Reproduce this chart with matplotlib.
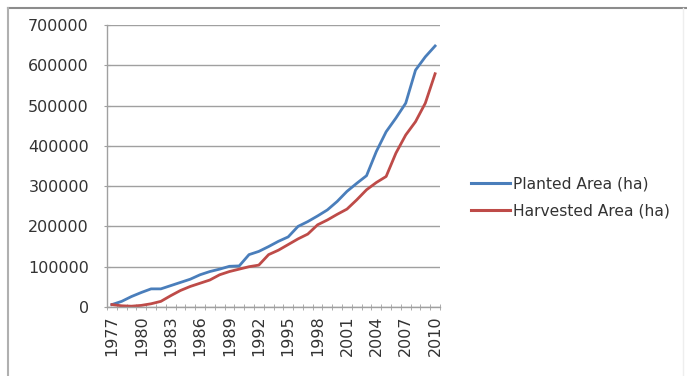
import matplotlib
matplotlib.use("Agg")
import matplotlib.pyplot as plt
from matplotlib.lines import Line2D
import numpy as np

years = list(range(1977, 2011))
planted = [6000, 14000, 26000, 36000, 45000, 45000, 53000, 61000, 69000, 80000,
           88000, 94000, 101000, 102000, 130000, 138000, 150000, 163000, 174000, 200000,
           212000, 226000, 241000, 262000, 287000, 307000, 326000, 386000, 435000, 469000,
           506000, 588000, 621000, 648000]
harvested = [6000, 3000, 2000, 4000, 8000, 14000, 28000, 41000, 51000, 59000,
             67000, 80000, 88000, 94000, 100000, 104000, 130000, 141000, 155000, 169000,
             181000, 204000, 216000, 230000, 243000, 266000, 291000, 309000, 324000, 382000,
             427000, 460000, 506000, 579000]
series_names = ["Planted Area (ha)", "Harvested Area (ha)"]
series_colors = ["#4A7EBB", "#BE4B48"]
y_ticks = [0, 100000, 200000, 300000, 400000, 500000, 600000, 700000]

W, H = 687, 376
fig = plt.figure(figsize=(W / 100, H / 100), dpi=100)
fig.patch.set_facecolor("white")
plt.rcParams["font.family"] = ["DejaVu Sans"]

# plot area in pixel coordinates
left, right, top, bottom = 107, 440, 25, 307
ax = fig.add_axes([left / W, 1 - bottom / H, (right - left) / W, (bottom - top) / H])

x = np.arange(len(years))
ax.plot(x, planted, color=series_colors[0], lw=2.0, solid_joinstyle="round")
ax.plot(x, harvested, color=series_colors[1], lw=2.0, solid_joinstyle="round")

ax.set_xlim(-0.5, len(years) - 0.5)
ax.set_ylim(0, 700000)
ax.set_yticks(y_ticks)
ax.set_yticklabels([str(v) for v in y_ticks], fontsize=11.5, color="#333333")
ax.grid(axis="y", color="#a0a0a0", lw=1.0)
ax.set_axisbelow(True)

label_idx = [i for i, yr in enumerate(years) if (yr - 1977) % 3 == 0]
ax.set_xticks(label_idx)
ax.set_xticklabels([str(years[i]) for i in label_idx], rotation=90,
                   fontsize=11.5, color="#333333")
ax.set_xticks(np.arange(-0.5, len(years), 1.0), minor=True)
ax.tick_params(axis="x", which="major", length=0, pad=6)
ax.tick_params(axis="x", which="minor", length=4, direction="inout", color="#a0a0a0")
ax.tick_params(axis="y", length=4, direction="inout", color="#a0a0a0", pad=11)

for s in ["top", "right"]:
    ax.spines[s].set_visible(False)
for s in ["left", "bottom"]:
    ax.spines[s].set_color("#a0a0a0")
    ax.spines[s].set_linewidth(1.0)

handles = [Line2D([], [], color=c, lw=2.2) for c in series_colors]
fig.legend(handles, series_names, loc="upper left",
           bbox_to_anchor=(465 / W, 1 - 170 / H), frameon=False,
           fontsize=11.2, handlelength=2.5, handletextpad=0.2,
           labelspacing=0.8, borderaxespad=0, labelcolor="#333333")

# chart frame
fig.add_artist(Line2D([8 / W, 1], [1 - 8 / H, 1 - 8 / H], color="#8c8c8c", lw=1.5))
fig.add_artist(Line2D([8 / W, 8 / W], [0, 1 - 8 / H], color="#b0b0b0", lw=1.5))
fig.add_artist(Line2D([683 / W, 683 / W], [0, 1 - 8 / H], color="#eeeeee", lw=1.0))

fig.savefig("out.png", dpi=100, facecolor="white")
